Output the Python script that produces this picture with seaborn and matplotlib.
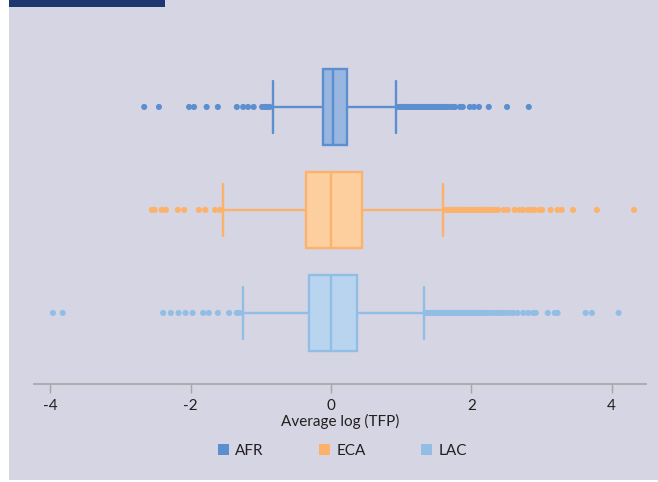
import matplotlib
matplotlib.use("Agg")
import matplotlib.pyplot as plt
import seaborn as sns
import numpy as np
import pandas as pd
from matplotlib.patches import Patch, Rectangle

sns.set_theme(style="white")
plt.rcParams["font.family"] = ["Lato", "DejaVu Sans"]

#---------------- dados ----------------
regions = ["AFR", "ECA", "LAC"]

whisker_low = [-0.83, -1.54, -1.25]
q1 = [-0.11, -0.36, -0.31]
median = [0.03, 0.00, 0.00]
q3 = [0.23, 0.44, 0.37]
whisker_high = [0.93, 1.60, 1.32]

afr_outliers = [-2.66, -2.45, -2.02, -1.95, -1.77, -1.61, -1.34, -1.25, -1.18,
                -1.10, -0.98, -0.94, -0.91, -0.87,
                0.96, 0.99, 1.01, 1.04, 1.06, 1.09, 1.12, 1.14, 1.17, 1.20,
                1.23, 1.25, 1.28, 1.31, 1.34, 1.36, 1.39, 1.42, 1.45, 1.48,
                1.51, 1.54, 1.57, 1.60, 1.63, 1.66, 1.70, 1.74, 1.77,
                1.84, 1.88, 1.98, 2.04, 2.11, 2.25, 2.51, 2.82]

eca_outliers = [-2.55, -2.51, -2.41, -2.35, -2.18, -2.09, -1.88, -1.79, -1.65,
                -1.58,
                1.62, 1.65, 1.68, 1.71, 1.74, 1.77, 1.80, 1.83, 1.86, 1.89,
                1.92, 1.95, 1.98, 2.01, 2.04, 2.07, 2.10, 2.13, 2.16, 2.19,
                2.22, 2.26, 2.30, 2.34, 2.38,
                2.46, 2.52, 2.62, 2.69, 2.74, 2.81, 2.86, 2.91, 2.98, 3.01,
                3.13, 3.23, 3.29, 3.45, 3.79, 4.32]

lac_outliers = [-3.96, -3.82, -2.39, -2.28, -2.17, -2.07, -1.97, -1.82, -1.74,
                -1.61, -1.45, -1.34, -1.30,
                1.36, 1.39, 1.42, 1.45, 1.48, 1.51, 1.54, 1.57, 1.60, 1.63,
                1.66, 1.69, 1.72, 1.75, 1.78, 1.81, 1.84, 1.87, 1.90, 1.93,
                1.96, 1.99, 2.02, 2.05, 2.08, 2.11, 2.14, 2.17, 2.20, 2.24,
                2.28, 2.32, 2.37, 2.41, 2.45, 2.50, 2.55, 2.60, 2.66,
                2.74, 2.81, 2.88, 2.92, 3.09, 3.19, 3.23, 3.63, 3.72, 4.10]

x_ticks = [-4, -2, 0, 2, 4]
x_label = "Average log (TFP)"

fill_colors = {"AFR": "#98b6df", "ECA": "#fdcf9f", "LAC": "#b8d4ee"}
edge_colors = {"AFR": "#5b8fd0", "ECA": "#fdb26b", "LAC": "#92bee5"}
bg = "#d5d5e3"
#--------------------------------------------------------

# caixa: 5 valores por grupo -> quartis exatos (whis infinito)
box_rows = []
for i, r in enumerate(regions):
    for v in [whisker_low[i], q1[i], median[i], q3[i], whisker_high[i]]:
        box_rows.append({"region": r, "tfp": v})
df_box = pd.DataFrame(box_rows)

df_out = pd.DataFrame({
    "tfp": afr_outliers + eca_outliers + lac_outliers,
    "region": (["AFR"] * len(afr_outliers) +
               ["ECA"] * len(eca_outliers) +
               ["LAC"] * len(lac_outliers))
})

fig = plt.figure(figsize=(6.58, 4.82), dpi=100)
fig.patch.set_facecolor("white")
fig.patches.append(Rectangle((9 / 658, 2 / 482), 649 / 658, 480 / 482,
                             transform=fig.transFigure, facecolor=bg,
                             edgecolor="none", zorder=-10))
# faixa do titulo (cortado no original)
fig.patches.append(Rectangle((9 / 658, 1 - 7 / 482), 156 / 658, 7 / 482,
                             transform=fig.transFigure, facecolor="#1f3770",
                             edgecolor="none", zorder=-5))

ax = fig.add_axes([34 / 658, 1 - 384 / 482, 612 / 658, 344 / 482])
ax.set_facecolor(bg)

for r in regions:
    sns.boxplot(data=df_box[df_box["region"] == r], x="tfp", y="region",
                order=regions, color=fill_colors[r], linecolor=edge_colors[r],
                saturation=1, width=0.73, whis=np.inf, showfliers=False,
                linewidth=1.7, capwidths=0.5, ax=ax)

sns.stripplot(data=df_out, x="tfp", y="region", order=regions, hue="region",
              palette=edge_colors, jitter=False, size=4.4, linewidth=0,
              legend=False, ax=ax, zorder=3)

ax.set_xlim(-4.23, 4.49)
ax.set_ylim(2.69, -0.65)
ax.set_xticks(x_ticks)
ax.set_xticklabels([str(t) for t in x_ticks])
ax.set_yticks([])
ax.set_ylabel("")
ax.set_xlabel(x_label, fontsize=11, color="#231f20", labelpad=1)

sns.despine(ax=ax, left=True)
ax.spines["bottom"].set_color("#a6a6a6")
ax.spines["bottom"].set_linewidth(1.2)
ax.tick_params(axis="x", bottom=True, length=6.5, width=1, color="#a6a6a6",
               labelsize=11, labelcolor="#231f20", pad=4)

handles = [Patch(facecolor=edge_colors[r], edgecolor="none", label=r)
           for r in regions]
leg = fig.legend(handles=handles, loc="center", ncol=3,
                 bbox_to_anchor=(0.52, 1 - 451 / 482), frameon=False,
                 fontsize=11, handlelength=0.75, handleheight=0.75,
                 handletextpad=0.4, columnspacing=3.6)
for t in leg.get_texts():
    t.set_color("#231f20")

fig.savefig("out.png", dpi=100, facecolor=fig.get_facecolor())
